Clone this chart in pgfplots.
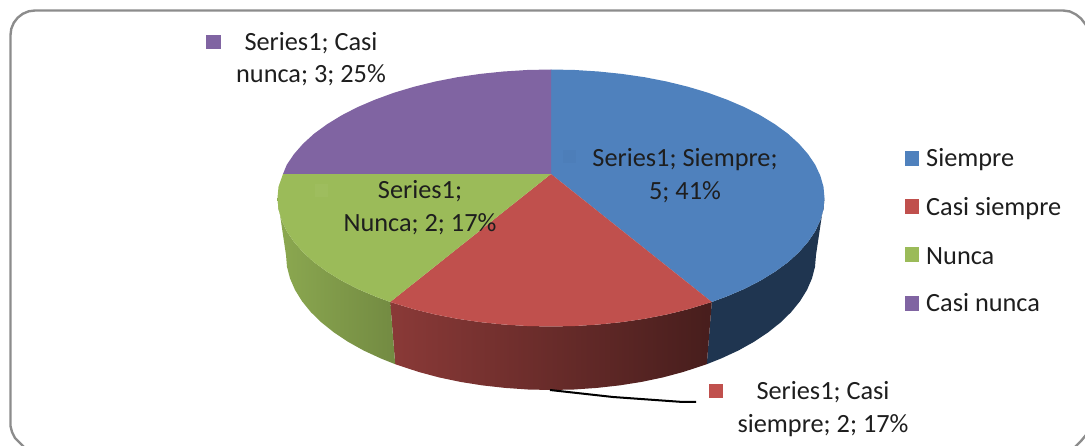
\documentclass[border=0pt]{standalone}
\usepackage{pgfplots}
\pgfplotsset{compat=1.18}
\usepackage{fontspec}
\setmainfont{Carlito}
\definecolor{cblue}{HTML}{4F81BD}
\definecolor{cred}{HTML}{C0504D}
\definecolor{cgreen}{HTML}{9BBB59}
\definecolor{cpurple}{HTML}{8064A2}
\definecolor{sblue}{HTML}{1F3550}
\definecolor{txt}{HTML}{1E1E1E}
\definecolor{frame}{HTML}{8C8C8C}
\colorlet{fblue}{cblue!98!black}
\colorlet{fgreen}{cgreen!97!white}
\tikzset{
  lab/.style={font=\fontsize{26.3}{26.3}\selectfont, text=txt, align=center, inner sep=0pt},
  legtxt/.style={font=\fontsize{26.3}{26.3}\selectfont, text=txt, anchor=base west, inner sep=0pt},
}
\pgfplotsset{
  key/.style n args={2}{only marks, mark=square*, mark size=#2, mark options={solid, draw=#1, fill=#1, line width=0pt}},
}
\begin{document}
\begin{tikzpicture}
\path[use as bounding box] (0,0) rectangle (1085pt,446pt);
\begin{axis}[
  at={(0,0)}, anchor=south west,
  width=1085pt, height=446pt, scale only axis,
  xmin=0, xmax=1085, ymin=0, ymax=446, y dir=reverse,
  axis lines=none, clip=true,
]
% frame
\addplot[draw=frame, line width=2.4pt, line join=round] coordinates {
 (24,447) (20,443) (15,438) (12,432) (10.5,426) (10.5,35) (11.3,28.7) (13.8,22.75) (17.7,17.7) (22.75,13.8) (28.7,11.3) (35,10.5)
 (1063,10.5) (1070,11.5) (1076,14.5) (1081,18.5) (1086,25)};
\addplot[draw=frame, line width=2.4pt, line join=round] coordinates {(1086,435) (1081,441) (1075,447)};
% side walls
\addplot[draw=none, fill=sblue] coordinates {(824.5,198) (823.5,209.2) (820.3,220.3) (815.2,231.3) (808,241.9) (798.9,252.3) (787.9,262.3) (775,271.7) (760.5,280.6) (744.4,288.9) (726.8,296.4) (711.8,302)
 (706.8,364.2) (721.3,358.4) (738.4,350.5) (754,341.8) (768.1,332.4) (780.5,322.5) (791.2,312.1) (800,301.2) (807,289.9) (812,278.4) (815,266.8) (816,255)} --cycle;
\addplot[draw=none, left color=cred!72!black, middle color=cred!56!black, right color=cred!37!black] coordinates {
 (711.8,302) (687.8,309.3) (666.6,314.5) (644.5,318.8) (621.8,322.1) (598.5,324.5) (574.8,326) (551,326.5) (527.2,326) (503.5,324.5) (480.2,322.1) (457.5,318.8) (435.4,314.5) (414.2,309.3) (390.2,302)
 (395.2,364.2) (418.5,371.9) (439,377.4) (460.4,381.9) (482.4,385.4) (505,387.9) (527.9,389.5) (551,390) (574.1,389.5) (597,387.9) (619.6,385.4) (641.6,381.9) (663,377.4) (683.5,371.9) (706.8,364.2)} --cycle;
\addplot[draw=none, left color=cgreen!90!black, right color=cgreen!74!black] coordinates {
 (390.2,302) (375.2,296.4) (357.6,288.9) (341.5,280.6) (327,271.7) (314.1,262.3) (303.1,252.3) (294,241.9) (286.8,231.3) (281.7,220.3) (278.5,209.2) (277.5,198)
 (286,255) (287,266.8) (290,278.4) (295,289.9) (302,301.2) (310.8,312.1) (321.5,322.5) (333.9,332.4) (348,341.8) (363.6,350.5) (380.7,358.4) (395.2,364.2)} --cycle;
% top face
\addplot[draw=none, fill=cblue] coordinates {(551,174) (551,69.5) (574.8,70) (598.5,71.5) (621.8,73.9) (644.5,77.2) (666.6,81.5) (687.8,86.7) (707.9,92.7) (726.8,99.6) (744.4,107.1) (760.5,115.4) (775,124.3) (787.9,133.7) (798.9,143.7) (808,154.1) (815.2,164.7) (820.3,175.7) (823.5,186.8)
 (824.5,198) (823.5,209.2) (820.3,220.3) (815.2,231.3) (808,241.9) (798.9,252.3) (787.9,262.3) (775,271.7) (760.5,280.6) (744.4,288.9) (726.8,296.4) (711.8,302)} --cycle;
\addplot[draw=none, fill=cred] coordinates {(551,174) (711.8,302) (687.8,309.3) (666.6,314.5) (644.5,318.8) (621.8,322.1) (598.5,324.5) (574.8,326) (551,326.5) (527.2,326) (503.5,324.5) (480.2,322.1) (457.5,318.8) (435.4,314.5) (414.2,309.3) (390.2,302)} --cycle;
\addplot[draw=none, fill=cgreen] coordinates {(551,174) (390.2,302) (375.2,296.4) (357.6,288.9) (341.5,280.6) (327,271.7) (314.1,262.3) (303.1,252.3) (294,241.9) (286.8,231.3) (281.7,220.3) (278.5,209.2) (277.5,198) (278.5,186.8) (283,174)} --cycle;
\addplot[draw=none, fill=cpurple] coordinates {(551,174) (283,174) (286.8,164.7) (294,154.1) (303.1,143.7) (314.1,133.7) (327,124.3) (341.5,115.4) (357.6,107.1) (375.2,99.6) (394.1,92.7) (414.2,86.7) (435.4,81.5) (457.5,77.2) (480.2,73.9) (503.5,71.5) (527.2,70) (551,69.5)} --cycle;
% leader line
\addplot[draw=black, line width=2pt, line join=round] coordinates {(550,390) (613,397) (683,402) (696,402)};
% label keys
\addplot[key={cpurple}{6.6pt}] coordinates {(213.5,42)};
\addplot[key={cred}{6.6pt}] coordinates {(716,391)};
\addplot[key={fblue}{6pt}] coordinates {(569,157)};
\addplot[key={fgreen}{6pt}] coordinates {(321,191)};
% legend keys
\addplot[key={cblue}{6.9pt}] coordinates {(912,158.3)};
\addplot[key={cred}{6.9pt}] coordinates {(912,206.3)};
\addplot[key={cgreen}{6.9pt}] coordinates {(912,254.7)};
\addplot[key={cpurple}{6.9pt}] coordinates {(912,303.5)};
% texts
\node[legtxt] at (axis cs:926,167) {Siempre};
\node[legtxt] at (axis cs:926,215.5) {Casi siempre};
\node[legtxt] at (axis cs:926,264.5) {Nunca};
\node[legtxt] at (axis cs:926,312) {Casi nunca};
\node[lab] at (axis cs:685,175.5) {Series1; Siempre;\\[6pt]5; 41\%};
\node[lab] at (axis cs:420,207.5) {Series1;\\[6pt]Nunca; 2; 17\%};
\node[lab] at (axis cs:311,59) {Series1; Casi\\[6pt]nunca; 3; 25\%};
\node[lab] at (axis cs:823,409) {Series1; Casi\\[6pt]siempre; 2; 17\%};
\end{axis}
\end{tikzpicture}
\end{document}
